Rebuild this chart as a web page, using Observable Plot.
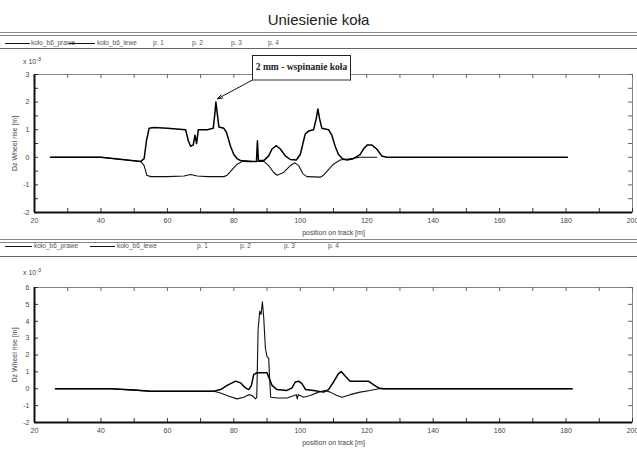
<!DOCTYPE html>
<html>
<head>
<meta charset="utf-8">
<script src="https://cdn.jsdelivr.net/npm/d3@7"></script>
<script src="https://cdn.jsdelivr.net/npm/@observablehq/plot@0.6"></script>
<style>
  html, body { margin: 0; padding: 0; background: #fff; }
  #wrap { position: relative; width: 637px; height: 452px; overflow: hidden; font-family: "Liberation Sans", Arial, sans-serif; color: #222; }
  .abs { position: absolute; }
  .hl { position: absolute; left: 0; width: 637px; }
  .leg { position: absolute; font-size: 6.5px; color: #555; white-space: nowrap; }
  .sw { position: absolute; height: 0; border-top: 1.3px solid #111; }
  .mul { position: absolute; font-size: 7px; color: #444; }
  .mul sup { font-size: 5.5px; }
  #note { position: absolute; left: 252px; top: 55px; width: 97px; height: 23px; background: #fff; border: 1px solid #222; border-bottom: 2px solid #999; font-family: "Liberation Serif", "DejaVu Serif", serif; font-weight: bold; font-size: 9.5px; line-height: 23px; text-align: center; color: #222; white-space: nowrap; overflow: hidden; }
  .chart { position: absolute; left: 0; }
</style>
</head>
<body>
<div id="wrap"></div>
<script>
// ---------- data ----------
const title = "Uniesienie koła";
const seriesNames = ["koło_b6_prawe", "koło_b6_lewe"];
const pointNames = ["p. 1", "p. 2", "p. 3", "p. 4"];
const xTicks = [20, 40, 60, 80, 100, 120, 140, 160, 180, 200];
const xMinorTicks = [30, 50, 70, 90, 110, 130, 150, 170, 190];
const yTicksTop = [-2, -1, 0, 1, 2, 3];
const yTicksBottom = [-2, -1, 0, 1, 2, 3, 4, 5, 6];
const noteText = "2 mm - wspinanie koła";

// top chart (x in m, values x 10^-3 m)
const topPraweX = [24.8, 30, 40, 45, 52, 53, 53.7, 54.5, 56, 60, 65.5, 66.3, 67, 67.8, 68.3, 68.8, 69.3, 72, 73.8, 74.3, 74.6, 75, 75.5, 77, 77.8, 79, 80, 81, 82, 84, 86.8, 87.1, 87.4, 89, 90.5, 91.5, 92.8, 94, 95.5, 97, 98.8, 100, 100.8, 101.5, 102.5, 104, 104.8, 105.3, 105.8, 106.5, 108.5, 109.5, 110.5, 111.5, 112.7, 114, 116, 118, 119, 120.2, 121.5, 123, 124.5, 126, 130, 150, 170, 180.4];
const topPraweY = [0, 0, 0, -0.06, -0.15, -0.05, 0.6, 1.05, 1.08, 1.05, 1.0, 0.6, 0.4, 0.45, 0.8, 0.5, 1.0, 1.0, 1.05, 1.6, 2.0, 1.6, 1.1, 1.05, 0.9, 0.4, 0.1, -0.05, -0.12, -0.15, -0.15, 0.6, -0.12, -0.12, 0.05, 0.3, 0.42, 0.3, 0.05, -0.08, -0.1, 0.1, 0.5, 0.85, 0.95, 1.0, 1.4, 1.75, 1.4, 1.05, 1.0, 0.8, 0.4, 0.1, -0.05, -0.1, -0.05, 0.1, 0.3, 0.45, 0.45, 0.3, 0.05, 0, 0, 0, 0, 0];
const topLeweX = [24.8, 40, 45, 52, 53, 53.8, 55, 60, 65, 67, 69, 72, 77, 78, 79.5, 81, 83, 86, 89, 90.5, 92, 93, 95, 97, 98.4, 99.5, 100.8, 102, 106, 107, 108.5, 110, 112, 115, 118, 123];
const topLeweY = [0, 0, -0.06, -0.15, -0.3, -0.65, -0.7, -0.7, -0.68, -0.62, -0.68, -0.7, -0.7, -0.65, -0.45, -0.25, -0.12, -0.15, -0.15, -0.3, -0.55, -0.65, -0.55, -0.3, -0.2, -0.3, -0.6, -0.7, -0.72, -0.65, -0.45, -0.25, -0.1, -0.05, 0, 0];

// bottom chart
const botPraweX = [26.3, 43, 50, 55, 70, 74, 76, 78, 80.5, 82, 83.5, 84.5, 85.3, 86, 87, 90, 90.5, 91.5, 93, 96, 97.5, 98.5, 99.5, 100.5, 101.6, 104, 107, 108.5, 110, 111.5, 112.3, 113.5, 115, 120.5, 122, 123.6, 125, 150, 181.8];
const botPraweY = [0, 0, -0.08, -0.15, -0.15, -0.15, -0.05, 0.2, 0.45, 0.35, 0.05, -0.05, 0.2, 0.85, 0.95, 0.95, 0.7, 0.2, -0.05, -0.1, 0.05, 0.4, 0.45, 0.3, -0.05, -0.1, -0.2, -0.05, 0.4, 0.9, 1.02, 0.75, 0.45, 0.45, 0.25, 0.05, 0, 0, 0];
const botLeweX = [26.3, 43, 50, 55, 74, 76, 78.5, 81, 83, 84.5, 85.5, 86.5, 86.9, 87.3, 87.8, 88.2, 88.6, 89, 89.5, 90, 90.5, 90.8, 91.1, 93, 96, 97.5, 98.8, 99.1, 99.4, 100, 101, 103, 105.5, 107.5, 109, 111, 112.6, 115, 118, 121, 123.6, 181.8];
const botLeweY = [0, 0, -0.08, -0.15, -0.15, -0.25, -0.45, -0.6, -0.5, -0.35, -0.4, -0.6, -0.5, 3.5, 4.6, 4.4, 5.15, 4.2, 2.4, 1.9, 1.8, 0.5, -0.5, -0.55, -0.55, -0.45, -0.35, -0.6, -0.35, -0.4, -0.5, -0.4, -0.2, -0.1, -0.2, -0.4, -0.5, -0.35, -0.2, -0.1, 0, 0];

// annotation arrow (data coords of box corner -> peak)
const noteArrow = [{x1: 85.6, y1: 2.8, x2: 75.1, y2: 2.12}];

// ---------- build ----------
const wrap = document.getElementById("wrap");
function el(tag, cls, css, html) {
  const e = document.createElement(tag);
  if (cls) e.className = cls;
  if (css) e.style.cssText = css;
  if (html != null) e.innerHTML = html;
  wrap.appendChild(e);
  return e;
}
const toRows = (xs, ys, name) => xs.map((x, i) => ({x, y: ys[i], s: name}));

// title
el("div", "abs", "left:0;width:637px;top:11px;text-align:center;font-size:15px;color:#222;", title);

// legend blocks
function legend(top, lineTopA, lineTopB, lineBot, pos) {
  el("div", "hl", `top:${lineTopA}px;border-top:1px solid #888;`);
  el("div", "hl", `top:${lineTopB}px;border-top:1px solid #888;`);
  el("div", "hl", `top:${lineBot}px;border-top:1.5px solid #666;`);
  el("div", "sw", `left:${pos.sw1[0]}px;width:${pos.sw1[1]}px;top:${top + 4}px;`);
  el("div", "leg", `left:${pos.t1}px;top:${top}px;`, seriesNames[0]);
  el("div", "sw", `left:${pos.sw2[0]}px;width:${pos.sw2[1]}px;top:${top + 4}px;`);
  el("div", "leg", `left:${pos.t2}px;top:${top}px;`, seriesNames[1]);
  pointNames.forEach((p, i) => el("div", "leg", `left:${pos.p[i]}px;top:${top}px;`, p));
}
legend(39, 32, 35, 48, {sw1: [5, 25], t1: 31, sw2: [69, 26], t2: 97, p: [153, 192, 231, 268]});
legend(242, 239, 242, 256, {sw1: [5, 27], t1: 34, sw2: [90, 25], t2: 117, p: [197, 240, 284, 328]});

// multiplier labels
el("div", "mul", "left:23px;top:56px;", "x 10<sup>-3</sup>");
el("div", "mul", "left:23px;top:267px;", "x 10<sup>-3</sup>");

function chart(dataA, dataB, yDomain, yTicks, yMinor, top, mTop, mBottom, extra) {
  const h = 190;
  const plotH = h - mTop - mBottom;
  const yPerPx = (yDomain[1] - yDomain[0]) / plotH;
  const xPerPx = 180 / (637 - 34 - 5);
  const tl = 4;
  const p = Plot.plot({
    width: 637, height: h,
    marginLeft: 34, marginRight: 5, marginTop: mTop, marginBottom: mBottom,
    style: {fontFamily: "Liberation Sans, Arial, sans-serif", fontSize: "7px", color: "#444", background: "transparent", overflow: "visible"},
    x: {domain: [20, 200]},
    y: {domain: yDomain},
    marks: [
      Plot.frame({stroke: "#666", strokeWidth: 0.8}),
      Plot.ruleX(xTicks.concat(xMinorTicks), {y1: yDomain[0], y2: yDomain[0] + tl * yPerPx, stroke: "#333"}),
      Plot.ruleX(xTicks.concat(xMinorTicks), {y1: yDomain[1], y2: yDomain[1] - tl * yPerPx, stroke: "#666"}),
      Plot.ruleY(yTicks.concat(yMinor), {x1: 20, x2: 20 + tl * xPerPx, stroke: "#333"}),
      Plot.ruleY(yTicks.concat(yMinor), {x1: 200, x2: 200 - tl * xPerPx, stroke: "#666"}),
      Plot.ruleX([20], {stroke: "#111", strokeWidth: 2}),
      Plot.ruleY([yDomain[0]], {stroke: "#111", strokeWidth: 2}),
      Plot.line(dataB, {x: "x", y: "y", stroke: "#111", strokeWidth: 1.1}),
      Plot.line(dataA, {x: "x", y: "y", stroke: "#000", strokeWidth: 1.5}),
      Plot.axisX({ticks: xTicks, tickSize: 0, tickPadding: 6, tickFormat: d => String(d), label: "position on track [m]", labelAnchor: "center", labelOffset: 22, labelArrow: "none"}),
      Plot.axisY({ticks: yTicks, tickSize: 0, tickPadding: 5, tickFormat: d => String(d), label: "Dz Wheel rise [m]", labelAnchor: "center", labelOffset: 22, labelArrow: "none"}),
      ...extra
    ]
  });
  p.classList.add("chart");
  p.style.top = top + "px";
  wrap.appendChild(p);
  return p;
}

chart(toRows(topPraweX, topPraweY, seriesNames[0]), toRows(topLeweX, topLeweY, seriesNames[1]),
  [-2, 3], yTicksTop, [-1.5, -0.5, 0.5, 1.5, 2.5], 50, 24, 28,
  [Plot.arrow(noteArrow, {x1: "x1", y1: "y1", x2: "x2", y2: "y2", stroke: "#111", strokeWidth: 1, headLength: 8, headAngle: 40})]);

chart(toRows(botPraweX, botPraweY, seriesNames[0]), toRows(botLeweX, botLeweY, seriesNames[1]),
  [-2, 6], yTicksBottom, [], 262, 25, 30, []);

// annotation box
const note = el("div", "", "", null);
note.id = "note";
note.textContent = noteText;
</script>
</body>
</html>
